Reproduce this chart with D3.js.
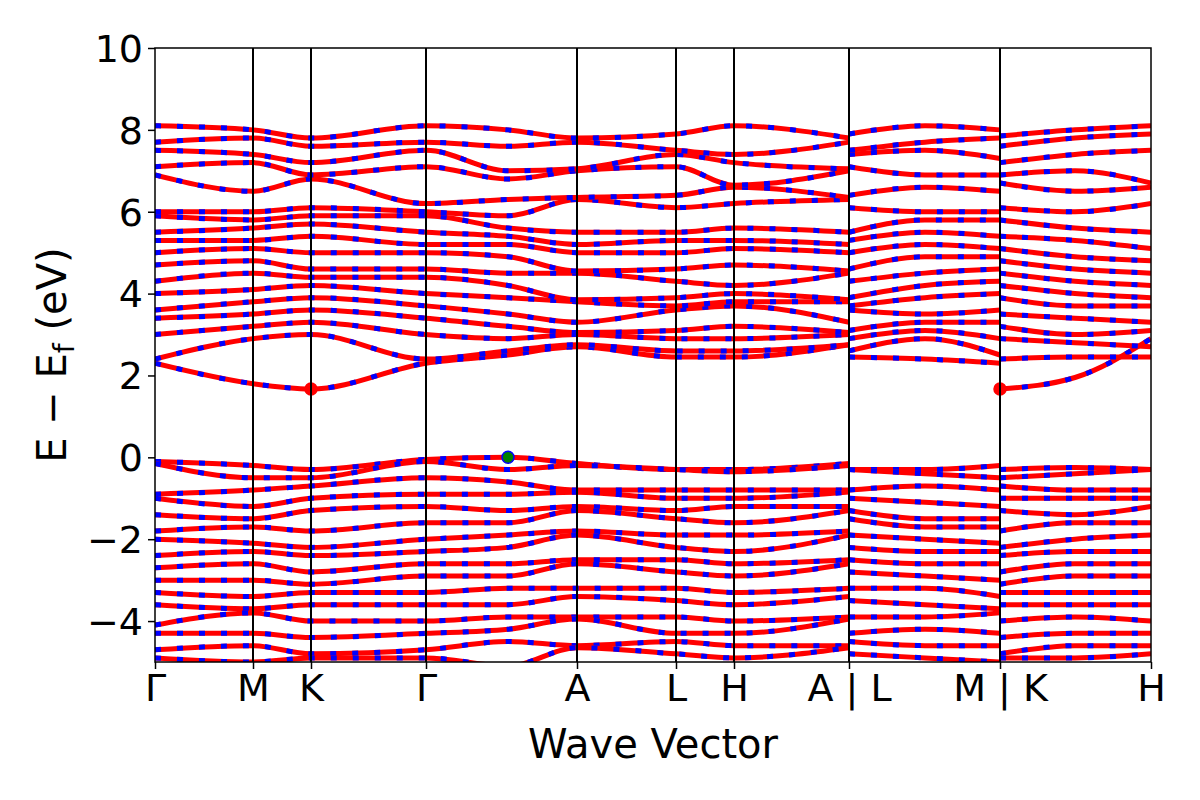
<!DOCTYPE html>
<html><head><meta charset="utf-8">
<script src="https://cdn.jsdelivr.net/npm/d3@7"></script>
<style>body{margin:0;background:#fff}svg text{font-family:"DejaVu Sans",sans-serif}</style>
</head><body><svg id="chart" width="1200" height="800"></svg>
<script>
// high-symmetry points along the path
const kLabels = ['Γ', 'M', 'K', 'Γ', 'A', 'L', 'H', 'A | L', 'M | K', 'H'];
const kPos = [0, 0.98, 1.56, 2.71, 4.22, 5.21, 5.79, 6.94, 8.45, 9.96];
const yTicks = [-4, -2, 0, 2, 4, 6, 8, 10];

// path 1: Γ M K Γ (mid) A L H A
const k1 = [0, 0.98, 1.56, 2.71, 3.53, 4.22, 5.21, 5.79, 6.94];
const cond1 = [
  [2.3, 1.8, 1.67, 2.3, 2.5, 2.7, 2.45, 2.45, 2.75],
  [2.4, 2.9, 3.0, 2.4, 2.6, 2.75, 2.6, 2.6, 2.75],
  [3.0, 3.2, 3.3, 3.0, 2.9, 3.0, 2.9, 2.9, 3.0],
  [3.4, 3.5, 3.6, 3.4, 3.2, 3.05, 3.1, 3.2, 3.05],
  [3.6, 3.8, 3.9, 3.7, 3.5, 3.3, 3.6, 3.7, 3.3],
  [4.0, 4.1, 4.2, 4.0, 3.9, 3.8, 3.7, 3.8, 3.8],
  [4.3, 4.5, 4.4, 4.4, 4.2, 3.85, 3.9, 4.0, 3.85],
  [4.7, 4.8, 4.6, 4.6, 4.5, 4.5, 4.3, 4.2, 4.5],
  [5.0, 5.1, 5.0, 5.0, 4.9, 4.55, 4.6, 4.7, 4.55],
  [5.3, 5.3, 5.4, 5.2, 5.2, 5.0, 5.0, 5.1, 5.0],
  [5.5, 5.6, 5.7, 5.5, 5.4, 5.2, 5.3, 5.3, 5.2],
  [5.9, 5.8, 5.9, 5.9, 5.6, 5.5, 5.5, 5.6, 5.5],
  [6.0, 6.0, 6.1, 6.0, 5.9, 6.3, 6.1, 6.2, 6.3],
  [6.9, 6.5, 6.8, 6.2, 6.3, 6.35, 6.4, 6.6, 6.35],
  [7.1, 7.2, 6.9, 7.1, 6.8, 7.0, 7.1, 6.65, 7.0],
  [7.5, 7.4, 7.2, 7.5, 7.0, 7.05, 7.4, 7.2, 7.05],
  [7.7, 7.8, 7.6, 7.7, 7.6, 7.7, 7.5, 7.4, 7.7],
  [8.1, 8.0, 7.8, 8.1, 8.0, 7.8, 7.9, 8.1, 7.8]
];
const val1 = [
  [-0.1, -0.2, -0.3, -0.05, 0.0, -0.15, -0.3, -0.3, -0.15],
  [-0.15, -0.5, -0.5, -0.1, -0.3, -0.2, -0.3, -0.35, -0.2],
  [-0.9, -0.8, -0.7, -0.5, -0.6, -0.8, -0.8, -0.8, -0.8],
  [-1.0, -1.2, -1.0, -0.9, -0.9, -0.85, -1.0, -1.0, -0.85],
  [-1.4, -1.5, -1.3, -1.2, -1.3, -1.2, -1.3, -1.2, -1.2],
  [-1.8, -1.7, -1.8, -1.6, -1.6, -1.3, -1.5, -1.6, -1.3],
  [-2.0, -2.1, -2.2, -2.0, -1.9, -1.8, -1.9, -1.9, -1.8],
  [-2.4, -2.3, -2.4, -2.3, -2.2, -1.9, -2.2, -2.3, -1.9],
  [-2.7, -2.6, -2.8, -2.6, -2.6, -2.5, -2.5, -2.6, -2.5],
  [-3.0, -3.0, -3.1, -2.9, -2.9, -2.6, -2.8, -2.9, -2.6],
  [-3.3, -3.4, -3.3, -3.3, -3.2, -3.2, -3.2, -3.3, -3.2],
  [-3.6, -3.7, -3.6, -3.6, -3.6, -3.4, -3.5, -3.6, -3.4],
  [-4.1, -3.8, -4.0, -4.0, -3.9, -3.9, -3.9, -4.0, -3.9],
  [-4.3, -4.3, -4.4, -4.3, -4.2, -3.95, -4.3, -4.3, -3.95],
  [-4.7, -4.6, -4.8, -4.7, -4.5, -4.6, -4.5, -4.6, -4.6],
  [-4.9, -5.0, -4.9, -4.9, -5.1, -4.65, -4.8, -4.9, -4.65]
];

// path 2: L (mid) M
const k2 = [6.94, 7.7, 8.45];
const cond2 = [
  [2.45, 2.4, 2.3], [2.6, 2.9, 2.5], [2.9, 3.1, 2.9], [3.1, 3.3, 3.3],
  [3.6, 3.5, 3.6], [3.7, 3.9, 4.0], [3.9, 4.2, 4.3], [4.3, 4.5, 4.6],
  [4.6, 4.9, 4.9], [5.0, 5.2, 5.1], [5.3, 5.5, 5.4], [5.5, 5.8, 5.8],
  [6.1, 6.0, 6.0], [6.4, 6.6, 6.5], [7.1, 6.9, 6.9], [7.4, 7.5, 7.3],
  [7.5, 7.7, 7.8], [7.9, 8.1, 8.0]
];
const val2 = [
  [-0.3, -0.3, -0.2], [-0.3, -0.4, -0.5], [-0.8, -0.7, -0.8], [-1.0, -1.1, -1.2],
  [-1.3, -1.5, -1.5], [-1.5, -1.7, -1.7], [-1.9, -2.0, -2.1], [-2.2, -2.3, -2.3],
  [-2.5, -2.6, -2.6], [-2.8, -2.9, -3.0], [-3.2, -3.2, -3.4], [-3.5, -3.6, -3.7],
  [-3.9, -3.9, -3.8], [-4.3, -4.2, -4.3], [-4.5, -4.6, -4.6], [-4.8, -4.9, -5.0]
];

// path 3: K (mid) H
const k3 = [8.45, 9.2, 9.96];
const cond3 = [
  [1.67, 1.95, 2.9], [2.4, 2.45, 2.45], [2.9, 2.8, 2.7], [3.2, 3.0, 3.1],
  [3.5, 3.4, 3.3], [3.9, 3.7, 3.7], [4.2, 4.0, 3.9], [4.5, 4.3, 4.2],
  [4.8, 4.6, 4.5], [5.1, 4.9, 4.8], [5.4, 5.3, 5.1], [5.8, 5.6, 5.5],
  [6.1, 6.0, 6.2], [6.7, 6.5, 6.6], [6.9, 7.0, 6.7], [7.2, 7.4, 7.5],
  [7.6, 7.8, 7.9], [7.85, 8.0, 8.1]
];
const val3 = [
  [-0.3, -0.25, -0.3], [-0.5, -0.4, -0.3], [-0.7, -0.8, -0.8], [-1.0, -1.0, -1.0],
  [-1.3, -1.4, -1.2], [-1.8, -1.6, -1.6], [-2.2, -2.0, -1.9], [-2.4, -2.3, -2.3],
  [-2.8, -2.6, -2.6], [-3.1, -2.9, -2.9], [-3.3, -3.3, -3.3], [-3.6, -3.6, -3.6],
  [-4.0, -3.9, -4.0], [-4.4, -4.3, -4.3], [-4.8, -4.6, -4.6], [-4.9, -4.9, -4.8]
];

const extrema = [
  {k: 1.56, e: 1.67, color: 'red'},
  {k: 8.45, e: 1.67, color: 'red'},
  {k: 3.53, e: 0.0, color: 'green'}
];

const svg = d3.select('#chart');
const m = {left: 155, right: 1151, top: 48, bottom: 662};
const x = d3.scaleLinear().domain([0, 9.96]).range([m.left, m.right]);
const y = d3.scaleLinear().domain([-5, 10]).range([m.bottom, m.top]);

svg.append('clipPath').attr('id', 'clip').append('rect')
  .attr('x', m.left).attr('y', m.top)
  .attr('width', m.right - m.left).attr('height', m.bottom - m.top);

const plot = svg.append('g').attr('clip-path', 'url(#clip)');
const line = d3.line().curve(d3.curveMonotoneX).x(d => x(d[0])).y(d => y(d[1]));

const segments = [[k1, cond1.concat(val1)], [k2, cond2.concat(val2)], [k3, cond3.concat(val3)]];
segments.forEach(([ks, bands]) => {
  bands.forEach(b => {
    const pts = b.map((e, i) => [ks[i], e]);
    plot.append('path').attr('d', line(pts)).attr('fill', 'none')
      .attr('stroke', 'red').attr('stroke-width', 5);
    plot.append('path').attr('d', line(pts)).attr('fill', 'none')
      .attr('stroke', 'blue').attr('stroke-width', 5).attr('stroke-dasharray', '6,16');
  });
});

// vertical lines at high-symmetry points
kPos.slice(1, -1).forEach(k => {
  svg.append('line').attr('x1', x(k)).attr('x2', x(k))
    .attr('y1', m.top).attr('y2', m.bottom).attr('stroke', 'black').attr('stroke-width', 2);
});

plot.selectAll('circle').data(extrema).enter().append('circle')
  .attr('cx', d => x(d.k)).attr('cy', d => y(d.e)).attr('r', 6)
  .attr('fill', d => d.color).attr('stroke', d => d.color === 'green' ? 'blue' : 'red').attr('stroke-width', 1.5);

svg.append('rect').attr('x', m.left).attr('y', m.top)
  .attr('width', m.right - m.left).attr('height', m.bottom - m.top)
  .attr('fill', 'none').attr('stroke', 'black').attr('stroke-width', 1.5);

const yAxis = svg.append('g').attr('transform', `translate(${m.left},0)`)
  .call(d3.axisLeft(y).tickValues(yTicks).tickSize(7).tickFormat(d => String(d).replace('-', '−')));
yAxis.select('.domain').remove();
yAxis.selectAll('text').attr('font-size', 38).attr('dy', '0.35em').attr('x', -12);
yAxis.selectAll('line').attr('stroke-width', 1.5);

const xAxis = svg.append('g').attr('transform', `translate(0,${m.bottom})`)
  .call(d3.axisBottom(x).tickValues(kPos).tickSize(7).tickFormat((d, i) => kLabels[i]));
xAxis.select('.domain').remove();
xAxis.selectAll('text').attr('font-size', 38).attr('y', 12);
xAxis.selectAll('line').attr('stroke-width', 1.5);

svg.append('text').attr('x', (m.left + m.right) / 2).attr('y', 758)
  .attr('text-anchor', 'middle').attr('font-size', 40).text('Wave Vector');

const yl = svg.append('text').attr('transform', `translate(66,${(m.top + m.bottom) / 2}) rotate(-90)`)
  .attr('text-anchor', 'middle').attr('font-size', 40);
yl.append('tspan').text('E − E');
yl.append('tspan').attr('font-size', 28).attr('dy', 8).text('f');
yl.append('tspan').attr('dy', -8).text(' (eV)');
</script></body></html>
